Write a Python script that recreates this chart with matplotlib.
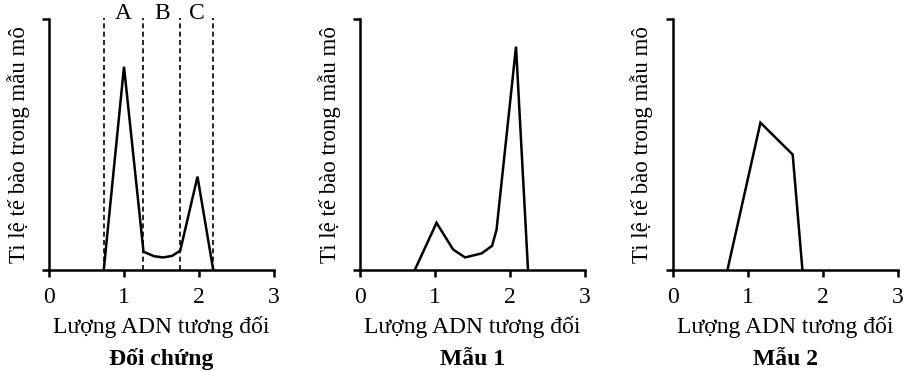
import matplotlib as mpl
import matplotlib.pyplot as plt

mpl.use('Agg')
plt.rcParams['font.family'] = ['Liberation Serif', 'DejaVu Serif']

# relative DNA amount (x) vs. share of cells in the tissue sample (y, 0..100)
ctrl_x = [0.73, 1.0, 1.26, 1.40, 1.52, 1.64, 1.75, 1.98, 2.19]
ctrl_y = [0, 81, 7.3, 5.5, 5.0, 5.6, 7.7, 37.2, 0]
s1_x = [0.73, 1.02, 1.24, 1.40, 1.62, 1.76, 1.82, 2.08, 2.24]
s1_y = [0, 18.8, 8.2, 5.0, 6.6, 9.6, 16, 89, 0]
s2_x = [0.73, 1.17, 1.60, 1.73]
s2_y = [0, 58.7, 46, 0]

phase_edges = [0.727, 1.26, 1.75, 2.19]
phase_names = ['A', 'B', 'C']

titles = ['Đối chứng', 'Mẫu 1', 'Mẫu 2']
xticks = [0, 1, 2, 3]
xlabel = 'Lượng ADN tương đối'
ylabel = 'Ti lệ tế bào trong mẫu mô'

fig = plt.figure(figsize=(9.06, 3.72), dpi=100)
lefts = [0.0541, 0.3974, 0.7425]
series = [(ctrl_x, ctrl_y), (s1_x, s1_y), (s2_x, s2_y)]

for i, (left, (xs, ys)) in enumerate(zip(lefts, series)):
    ax = fig.add_axes([left, 0.2742, 0.2483, 0.6747])
    ax.plot(xs, ys, color='black', lw=1.8, solid_joinstyle='miter')
    ax.set_xlim(0, 3)
    ax.set_ylim(0, 100)
    for side in ['top', 'right']:
        ax.spines[side].set_visible(False)
    for side in ['left', 'bottom']:
        ax.spines[side].set_linewidth(1.8)
    ax.set_xticks(xticks)
    ax.set_yticks([0, 100], ['', ''])
    ax.tick_params(axis='x', direction='out', length=5, width=1.8, labelsize=17, pad=7)
    ax.tick_params(axis='y', direction='out', length=5, width=1.8, pad=0)
    ax.set_xlabel(xlabel, fontsize=17, labelpad=6)
    ax.set_ylabel(ylabel, fontsize=16.5, labelpad=9)
    ax.text(0.5, -0.355, titles[i], transform=ax.transAxes, ha='center', va='center',
            fontsize=17, fontweight='bold')

    if i == 0:
        ax.vlines(phase_edges, 0, 100.5, colors='black', linestyles=(0, (3, 2)), lw=1.2,
                  clip_on=False)
        for name, a, b in zip(phase_names, phase_edges[:-1], phase_edges[1:]):
            ax.text((a + b) / 2, 102, name, ha='center', va='center', fontsize=17)

fig.savefig('out.png', dpi=100)
